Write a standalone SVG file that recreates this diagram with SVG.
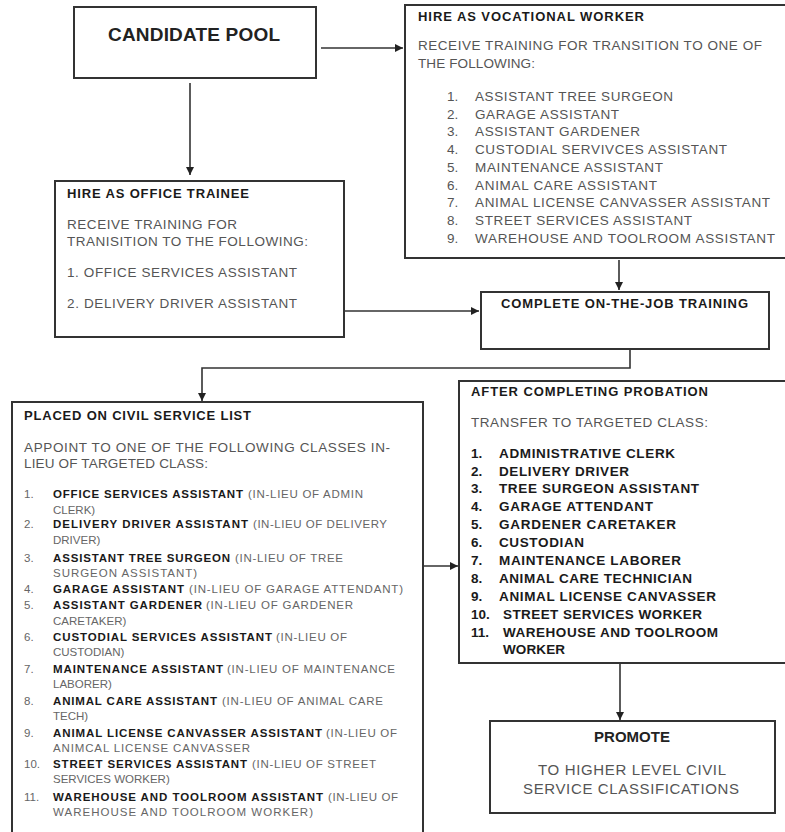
<svg xmlns="http://www.w3.org/2000/svg" width="785" height="832" viewBox="0 0 785 832">
<defs>
<marker id="ah" viewBox="0 0 10 10" refX="10" refY="5" markerWidth="8" markerHeight="8" markerUnits="userSpaceOnUse" orient="auto">
<path d="M0,0 L10,5 L0,10 z" fill="#222"/>
</marker>
</defs>
<style>
.box{fill:#fff;stroke:#333;stroke-width:2}
.con{fill:none;stroke:#333;stroke-width:1.6;marker-end:url(#ah)}
text{font-family:"Liberation Sans",Arial,sans-serif}
.h{font-weight:bold;font-size:13px;fill:#1a1a1a}
.b{font-size:13.5px;fill:#555}
.pb{font-weight:bold;font-size:13.5px;fill:#1a1a1a}
.sb{font-weight:bold;font-size:11.5px;fill:#1a1a1a}
.sn{font-size:11.5px;fill:#666}
</style>
<rect width="785" height="832" fill="#fff"/>

<g id="connectors">
<line class="con" x1="321" y1="48" x2="403" y2="48"/>
<line class="con" x1="190" y1="83" x2="190" y2="175"/>
<line class="con" x1="619" y1="260" x2="619" y2="290"/>
<line class="con" x1="344" y1="311" x2="479" y2="311"/>
<polyline class="con" points="630,349 630,368 202,368 202,401"/>
<line class="con" x1="424" y1="566" x2="458" y2="566"/>
<line class="con" x1="620" y1="664" x2="620" y2="720"/>
</g>

<g id="candidate-pool">
<rect class="box" x="74" y="7" width="242" height="71"/>
<text x="108" y="41" font-size="19" font-weight="bold" fill="#222" textLength="172">CANDIDATE POOL</text>
</g>

<g id="vocational-worker">
<rect class="box" x="405" y="5" width="395" height="253"/>
<text class="h" x="418" y="21" textLength="226">HIRE AS VOCATIONAL WORKER</text>
<text class="b" x="418" y="50" textLength="344">RECEIVE TRAINING FOR TRANSITION TO ONE OF</text>
<text class="b" x="418" y="68" textLength="117">THE FOLLOWING:</text>
<g class="b">
<text x="447" y="101">1.</text><text x="475" y="101" textLength="198">ASSISTANT TREE SURGEON</text>
<text x="447" y="118.7">2.</text><text x="475" y="118.7" textLength="144">GARAGE ASSISTANT</text>
<text x="447" y="136.4">3.</text><text x="475" y="136.4" textLength="165">ASSISTANT GARDENER</text>
<text x="447" y="154.1">4.</text><text x="475" y="154.1" textLength="252">CUSTODIAL SERVIVCES ASSISTANT</text>
<text x="447" y="171.8">5.</text><text x="475" y="171.8" textLength="188">MAINTENANCE ASSISTANT</text>
<text x="447" y="189.5">6.</text><text x="475" y="189.5" textLength="182">ANIMAL CARE ASSISTANT</text>
<text x="447" y="207.2">7.</text><text x="475" y="207.2" textLength="295">ANIMAL LICENSE CANVASSER ASSISTANT</text>
<text x="447" y="224.9">8.</text><text x="475" y="224.9" textLength="217">STREET SERVICES ASSISTANT</text>
<text x="447" y="242.6">9.</text><text x="475" y="242.6" textLength="300">WAREHOUSE AND TOOLROOM ASSISTANT</text>
</g>
</g>

<g id="office-trainee">
<rect class="box" x="55" y="181" width="289" height="156"/>
<text class="h" x="67" y="198" textLength="182">HIRE AS OFFICE TRAINEE</text>
<text class="b" x="67" y="229" textLength="170">RECEIVE TRAINING FOR</text>
<text class="b" x="67" y="246" textLength="241">TRANISITION TO THE FOLLOWING:</text>
<text class="b" x="67" y="277" textLength="230">1. OFFICE SERVICES ASSISTANT</text>
<text class="b" x="67" y="308" textLength="230">2. DELIVERY DRIVER ASSISTANT</text>
</g>

<g id="complete-training">
<rect class="box" x="481" y="292" width="288" height="57"/>
<text class="h" x="501" y="308" textLength="247">COMPLETE ON-THE-JOB TRAINING</text>
</g>

<g id="civil-service-list">
<rect class="box" x="12" y="402" width="411" height="440"/>
<text class="h" x="24" y="420" textLength="227">PLACED ON CIVIL SERVICE LIST</text>
<text class="b" x="24" y="452" textLength="366">APPOINT TO ONE OF THE FOLLOWING CLASSES IN-</text>
<text class="b" x="24" y="468" textLength="184">LIEU OF TARGETED CLASS:</text>
<g>
<text class="sn" x="24" y="498">1.</text>
<text class="sb" x="53" y="498" textLength="190">OFFICE SERVICES ASSISTANT</text>
<text class="sn" x="248" y="498" textLength="115">(IN-LIEU OF ADMIN</text>
<text class="sn" x="53" y="514">CLERK)</text>

<text class="sn" x="24" y="528">2.</text>
<text class="sb" x="53" y="528" textLength="195">DELIVERY DRIVER ASSISTANT</text>
<text class="sn" x="253" y="528" textLength="134">(IN-LIEU OF DELIVERY</text>
<text class="sn" x="53" y="544">DRIVER)</text>

<text class="sn" x="24" y="562">3.</text>
<text class="sb" x="53" y="562" textLength="177">ASSISTANT TREE SURGEON</text>
<text class="sn" x="235" y="562" textLength="108">(IN-LIEU OF TREE</text>
<text class="sn" x="53" y="577" textLength="144">SURGEON ASSISTANT)</text>

<text class="sn" x="24" y="593">4.</text>
<text class="sb" x="53" y="593" textLength="131">GARAGE ASSISTANT</text>
<text class="sn" x="189" y="593" textLength="214">(IN-LIEU OF GARAGE ATTENDANT)</text>

<text class="sn" x="24" y="609">5.</text>
<text class="sb" x="53" y="609" textLength="149">ASSISTANT GARDENER</text>
<text class="sn" x="206" y="609" textLength="147">(IN-LIEU OF GARDENER</text>
<text class="sn" x="53" y="625">CARETAKER)</text>

<text class="sn" x="24" y="641">6.</text>
<text class="sb" x="53" y="641" textLength="219">CUSTODIAL SERVICES ASSISTANT</text>
<text class="sn" x="276" y="641" textLength="71">(IN-LIEU OF</text>
<text class="sn" x="53" y="656">CUSTODIAN)</text>

<text class="sn" x="24" y="673">7.</text>
<text class="sb" x="53" y="673" textLength="170">MAINTENANCE ASSISTANT</text>
<text class="sn" x="227" y="673" textLength="168">(IN-LIEU OF MAINTENANCE</text>
<text class="sn" x="53" y="688">LABORER)</text>

<text class="sn" x="24" y="705">8.</text>
<text class="sb" x="53" y="705" textLength="164">ANIMAL CARE ASSISTANT</text>
<text class="sn" x="222" y="705" textLength="161">(IN-LIEU OF ANIMAL CARE</text>
<text class="sn" x="53" y="720">TECH)</text>

<text class="sn" x="24" y="737">9.</text>
<text class="sb" x="53" y="737" textLength="269">ANIMAL LICENSE CANVASSER ASSISTANT</text>
<text class="sn" x="326" y="737" textLength="71">(IN-LIEU OF</text>
<text class="sn" x="53" y="752" textLength="197">ANIMCAL LICENSE CANVASSER</text>

<text class="sn" x="24" y="768">10.</text>
<text class="sb" x="53" y="768" textLength="194">STREET SERVICES ASSISTANT</text>
<text class="sn" x="252" y="768" textLength="124">(IN-LIEU OF STREET</text>
<text class="sn" x="53" y="783">SERVICES WORKER)</text>

<text class="sn" x="24" y="801">11.</text>
<text class="sb" x="53" y="801" textLength="270">WAREHOUSE AND TOOLROOM ASSISTANT</text>
<text class="sn" x="328" y="801" textLength="70">(IN-LIEU OF</text>
<text class="sn" x="53" y="816" textLength="260">WAREHOUSE AND TOOLROOM WORKER)</text>
</g>
</g>

<g id="after-probation">
<rect class="box" x="459" y="381" width="340" height="282"/>
<text class="h" x="471" y="396" textLength="237">AFTER COMPLETING PROBATION</text>
<text class="b" x="471" y="427" textLength="237">TRANSFER TO TARGETED CLASS:</text>
<g class="pb">
<text x="471" y="458">1.</text><text x="499" y="458" textLength="176">ADMINISTRATIVE CLERK</text>
<text x="471" y="475.5">2.</text><text x="499" y="475.5" textLength="130">DELIVERY DRIVER</text>
<text x="471" y="493">3.</text><text x="499" y="493" textLength="200">TREE SURGEON ASSISTANT</text>
<text x="471" y="511">4.</text><text x="499" y="511" textLength="154">GARAGE ATTENDANT</text>
<text x="471" y="528.5">5.</text><text x="499" y="528.5" textLength="177">GARDENER CARETAKER</text>
<text x="471" y="547">6.</text><text x="499" y="547" textLength="85">CUSTODIAN</text>
<text x="471" y="565">7.</text><text x="499" y="565" textLength="182">MAINTENANCE LABORER</text>
<text x="471" y="583">8.</text><text x="499" y="583" textLength="193">ANIMAL CARE TECHNICIAN</text>
<text x="471" y="601">9.</text><text x="499" y="601" textLength="217">ANIMAL LICENSE CANVASSER</text>
<text x="471" y="618.5">10.</text><text x="503" y="618.5" textLength="199">STREET SERVICES WORKER</text>
<text x="471" y="637">11.</text><text x="503" y="637" textLength="215">WAREHOUSE AND TOOLROOM</text>
<text x="503" y="654" textLength="62">WORKER</text>
</g>
</g>

<g id="promote">
<rect class="box" x="490" y="721" width="285" height="92"/>
<text x="632" y="742" text-anchor="middle" font-size="15" font-weight="bold" fill="#222">PROMOTE</text>
<text x="632" y="775" text-anchor="middle" font-size="15" fill="#555" textLength="188">TO HIGHER LEVEL CIVIL</text>
<text x="631" y="794" text-anchor="middle" font-size="15" fill="#555" textLength="216">SERVICE CLASSIFICATIONS</text>
</g>
</svg>
